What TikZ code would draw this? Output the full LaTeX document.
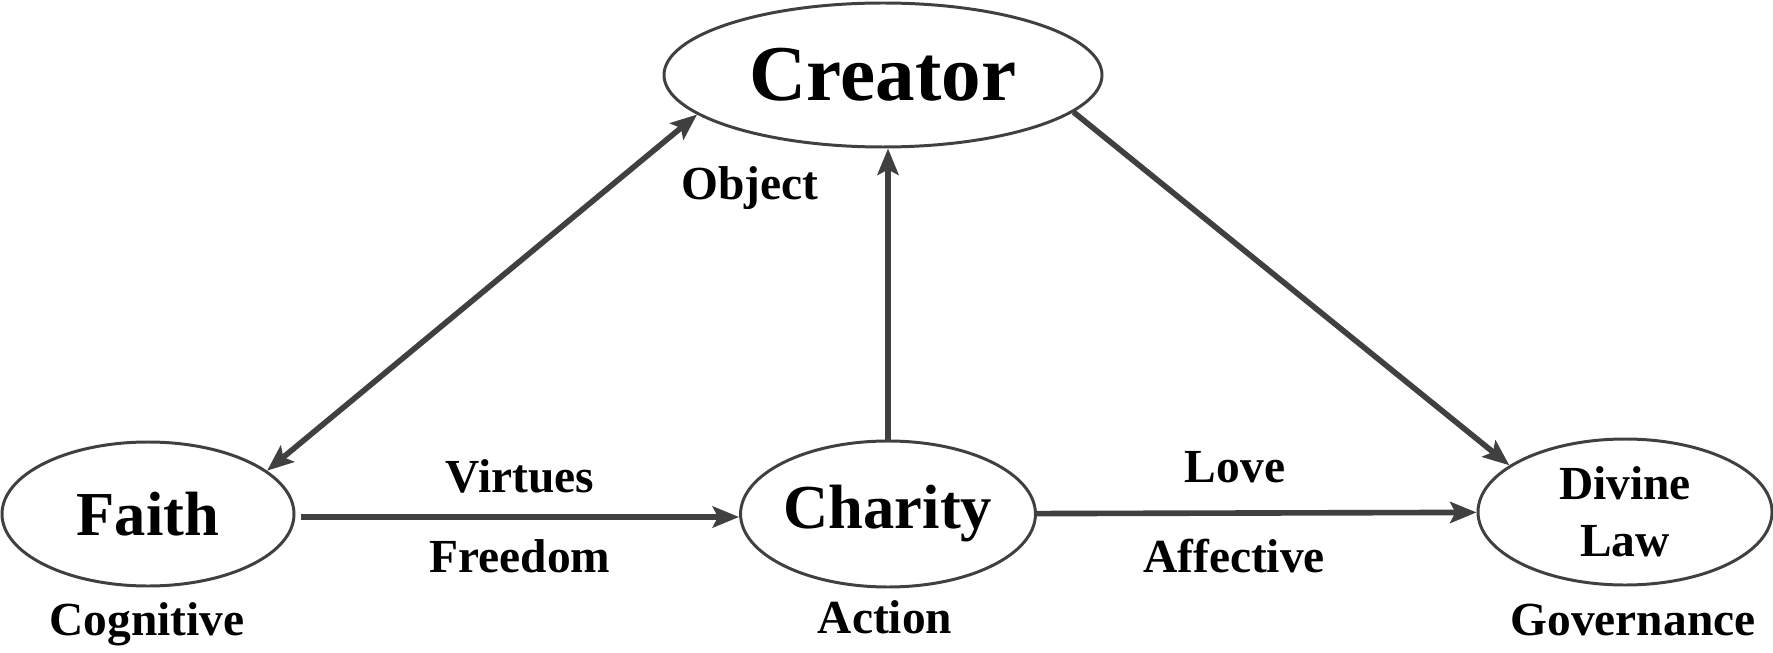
\documentclass[tikz,border=0pt]{standalone}
\usepackage{fontspec}
\setmainfont{Liberation Serif}
\usetikzlibrary{positioning,calc,arrows.meta,shapes.geometric}
\definecolor{linegray}{RGB}{64,64,64}
\tikzset{oval/.style={draw=linegray,ellipse,line width=0.85pt,inner sep=0pt,align=center}  }
\tikzset{tag/.style={anchor=base,font=\fontsize{13.5}{16.2}\selectfont\bfseries}  }
\tikzset{>={Stealth[length=7.5pt,width=6pt,inset=1.5pt]}}

\begin{document}
\begin{tikzpicture}
	\useasboundingbox (0,0) rectangle (17.73,6.52);
		\node[oval,minimum width=4.38cm,minimum height=1.44cm,font=\fontsize{22.5}{27}\selectfont\bfseries] (creator) at (8.83,5.77) {Creator};
			\node[oval,minimum width=2.92cm,minimum height=1.44cm,font=\fontsize{17.8}{21}\selectfont\bfseries] (faith) at (1.48,1.38) {Faith};
			\node[oval,minimum width=2.94cm,minimum height=1.46cm,font=\fontsize{17.8}{21}\selectfont\bfseries] (charity) at (8.88,1.38) {Charity};
			\node[oval,minimum width=2.94cm,minimum height=1.46cm,font=\fontsize{13.5}{16.2}\selectfont\bfseries] (divine) at (16.25,1.40) {Divine\\Law};

			\draw[line width=1.6pt,linegray]
				  (faith.east) ++(0.06,-0.03) coordinate (fs) 
				  (fs) edge[->] (fs -| charity.west)
				  (charity) edge[->] (divine)
				  (charity.north) edge[->] (charity.north |- creator.south)
				  (creator.-11) edge[->] (divine.158)
				  (faith.20) edge[<->] (creator.192)
				;
				\node[tag] (object) at (7.50,4.52) {Object};
				\node[tag] (virtues) at (5.20,1.60) {Virtues};
				\node[tag] (freedom) at (5.20,0.80) {Freedom};
				\node[tag] (love) at (12.35,1.70) {Love};
				\node[tag] (affective) at (12.34,0.80) {Affective};
				\node[tag] (cognitive) at (1.47,0.17) {Cognitive};
				\node[tag] (action) at (8.85,0.19) {Action};
				\node[tag] (governance) at (16.33,0.17) {Governance};
	\end{tikzpicture}
\end{document}
